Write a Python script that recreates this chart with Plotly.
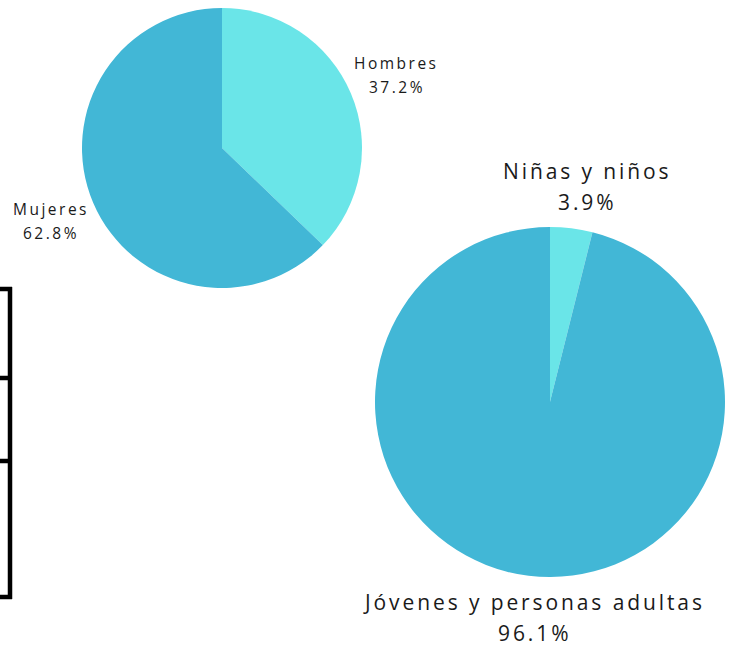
import math
import plotly.graph_objects as go

# ---- data ----
sexo_labels = ["Hombres", "Mujeres"]
sexo_values = [37.2, 62.8]
edad_labels = ["Niñas y niños", "Jóvenes y personas adultas"]
edad_values = [3.9, 96.1]
slice_colors = ["#6AE5E8", "#42B7D6"]

W, H = 736, 646


def px(x):
    return x / W


def py(y):
    return 1 - y / H


fig = go.Figure()

pies = [
    dict(labels=sexo_labels, values=sexo_values, cx=222, cy=148, r=140,
         f=1.34, fs=15.5, ls=2.5, gap=24, xshift=2),
    dict(labels=edad_labels, values=edad_values, cx=550, cy=402, r=175,
         f=1.24, fs=21, ls=2.9, gap=31, xshift=11),
]

annotations = []
for p in pies:
    cx, cy, r = p["cx"], p["cy"], p["r"]
    fig.add_trace(go.Pie(
        labels=p["labels"], values=p["values"], sort=False,
        direction="clockwise", rotation=0, textinfo="none",
        hoverinfo="label+percent",
        marker=dict(colors=slice_colors, line=dict(width=0)),
        domain=dict(x=[px(cx - r), px(cx + r)], y=[py(cy + r), py(cy - r)]),
        showlegend=False,
    ))
    total = sum(p["values"])
    cum = 0
    for lab, v in zip(p["labels"], p["values"]):
        theta = 2 * math.pi * (cum + v / 2) / total
        cum += v
        lx = cx + p["f"] * r * math.sin(theta) + p["xshift"]
        ly = cy - p["f"] * r * math.cos(theta)
        style = f"letter-spacing:{p['ls']}px"
        for txt, dy in ((lab, -p["gap"] / 2), (f"{v:.1f}%", p["gap"] / 2)):
            annotations.append(dict(
                x=px(lx), y=py(ly + dy), xref="paper", yref="paper",
                text=f"<span style='{style}'>{txt}</span>",
                showarrow=False, xanchor="center", yanchor="middle",
                font=dict(family="Open Sans", size=p["fs"], color="#1a1a1a"),
            ))

# table-border fragment on the left edge
shapes = []
line = dict(color="black", width=4.5)
shapes.append(dict(type="line", xref="paper", yref="paper",
                   x0=px(10), x1=px(10), y0=py(287), y1=py(599), line=line))
for yy in (289, 378, 461, 597):
    shapes.append(dict(type="line", xref="paper", yref="paper",
                       x0=px(-2), x1=px(12), y0=py(yy), y1=py(yy), line=line))

fig.update_layout(
    width=W, height=H,
    margin=dict(l=0, r=0, t=0, b=0),
    paper_bgcolor="white", plot_bgcolor="white",
    annotations=annotations, shapes=shapes,
)

fig.write_html("out.html", config={"displayModeBar": False},
               post_script="document.body.style.margin='0';")
